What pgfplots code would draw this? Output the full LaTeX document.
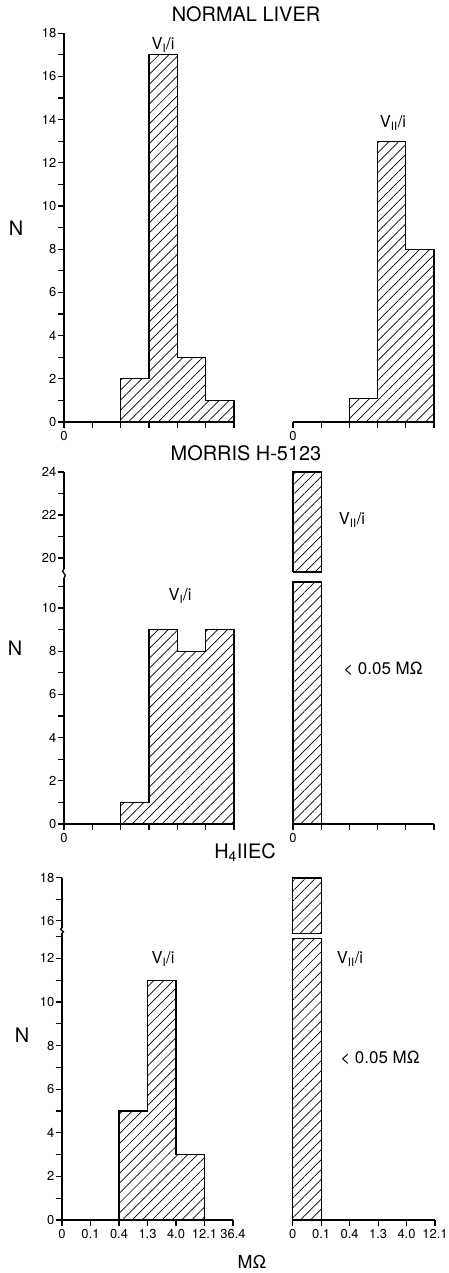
\documentclass[border=0pt]{standalone}
\usepackage{fontspec}
\setmainfont{TeX Gyre Heros}
\usepackage{pgfplots}
\pgfplotsset{compat=1.18}
\usetikzlibrary{patterns.meta}
\tikzset{hatch/.style={draw=black, line width=1.2bp, pattern={Lines[angle=45,distance=7bp,line width=0.7bp]}}}
\pgfplotsset{
  base/.style={
    anchor=south west, enlargelimits=false, clip=false,
    xmin=0, ymin=0,
    tick align=outside, major tick length=6bp, minor tick length=6bp,
    every tick/.style={black, line width=1.1bp},
    axis line style={line width=1.3bp},
    tick label style={font=\fontsize{13}{13}\selectfont},
    yticklabel style={inner xsep=1.5bp},
    xticklabel style={inner ysep=3bp},
    /pgf/number format/assume math mode=true,
  },
  leftax/.style={base, axis x line*=bottom, axis y line*=left},
  rightax/.style={base, axis x line*=bottom, axis y line=none, ytick=\empty},
  topleft/.style={base, axis x line=none, axis y line*=left, xtick=\empty},
  topright/.style={base, hide axis},
}
\newcommand{\ttl}{\fontsize{20}{20}\selectfont}
\newcommand{\lbl}{\fontsize{16.5}{16.5}\selectfont}
\begin{document}
\begin{tikzpicture}
\useasboundingbox (0,0) rectangle (449bp,1273bp);
% ---------------- Panel 1: NORMAL LIVER ----------------
\begin{axis}[leftax, at={(64bp,851bp)}, x=28.33bp, y=21.6bp, xmax=6, ymax=18,
  ytick={0,2,...,18}, minor ytick={1,3,...,17},
  xtick={0,...,6}, xticklabels={0,{},{},{},{},{},{}}]
\addplot[hatch, const plot] coordinates {(2,0) (2,2) (3,17) (4,3) (5,1) (6,1) (6,0)} \closedcycle;
\end{axis}
\begin{axis}[rightax, at={(293bp,851bp)}, x=28.2bp, y=21.6bp, xmax=5, ymax=18,
  xtick={0,...,5}, xticklabels={0,{},{},{},{},{}}]
\addplot[hatch, const plot] coordinates {(2,0) (2,1.1) (3,13) (4,8) (5,8) (5,0)} \closedcycle;
\end{axis}
% ---------------- Panel 2: MORRIS H-5123 ----------------
\begin{axis}[leftax, at={(64bp,449bp)}, x=28.33bp, y=21.6bp, xmax=6, ymax=11.4,
  ytick={0,2,...,10}, minor ytick={1,3,...,11},
  xtick={0,...,6}, xticklabels={0,{},{},{},{},{},{}}]
\addplot[hatch, const plot] coordinates {(2,0) (2,1) (3,9) (4,8) (5,9) (6,9) (6,0)} \closedcycle;
\end{axis}
\begin{axis}[topleft, at={(64bp,704bp)}, x=28.33bp, y=21.5bp, xmax=6, ymin=19.49, ymax=24,
  ytick={20,22,24}, minor ytick={21,23}]
\end{axis}
\begin{axis}[rightax, at={(293bp,449bp)}, x=28.2bp, y=21.6bp, xmax=5, ymax=11.4,
  xtick={0,...,5}, xticklabels={0,{},{},{},{},{}}]
\addplot[hatch] coordinates {(0,0) (0,11.2) (1,11.2) (1,0)} \closedcycle;
\end{axis}
\begin{axis}[topright, at={(293bp,704bp)}, x=28.2bp, y=21.5bp, xmax=5, ymin=19.49, ymax=24]
\addplot[hatch] coordinates {(0,19.35) (0,24) (1,24) (1,19.35) (0,19.35)};
\end{axis}
% ---------------- Panel 3: H4IIEC ----------------
\begin{axis}[leftax, at={(62bp,53bp)}, x=28.5bp, y=21.8bp, xmax=6, ymax=13.17,
  ytick={0,2,...,12}, minor ytick={1,3,...,13},
  xtick={0,...,6}, xticklabels={0,0.1,0.4,1.3,4.0,12.1,36.4}]
\addplot[hatch, const plot] coordinates {(2,0) (2,5) (3,11) (4,3) (5,3) (5,0)} \closedcycle;
\end{axis}
\begin{axis}[topleft, at={(62bp,345bp)}, x=28.5bp, y=21.5bp, xmax=6, ymin=15.67, ymax=18,
  ytick={16,18}, minor ytick={17}]
\end{axis}
\begin{axis}[rightax, at={(292.7bp,53bp)}, x=28.46bp, y=21.8bp, xmax=5, ymax=13.17,
  xtick={0,...,5}, xticklabels={0,0.1,0.4,1.3,4.0,12.1}]
\addplot[hatch] coordinates {(0,0) (0,12.9) (1,12.9) (1,0)} \closedcycle;
\end{axis}
\begin{axis}[topright, at={(292.7bp,345bp)}, x=28.46bp, y=21.5bp, xmax=5, ymin=15.67, ymax=18]
\addplot[hatch] coordinates {(0,15.4) (0,18) (1,18) (1,15.4) (0,15.4)};
\end{axis}
% axis breaks
\draw[line width=1.3bp] (64bp,695.2bp) .. controls (69bp,698bp) and (59bp,701bp) .. (64bp,704bp);
\draw[line width=1.3bp] (62bp,340bp) .. controls (67bp,341.5bp) and (57bp,343.5bp) .. (62bp,345bp);
% titles and labels
\node[font=\ttl] at (246bp,1259bp) {NORMAL LIVER};
\node[font=\ttl] at (246bp,820bp) {MORRIS H-5123};
\node[font=\ttl] at (245bp,420bp) {H\textsubscript{4}IIEC};
\node[font=\fontsize{20}{20}\selectfont] at (16bp,1045bp) {N};
\node[font=\fontsize{20}{20}\selectfont] at (15bp,625bp) {N};
\node[font=\fontsize{20}{20}\selectfont] at (22bp,238bp) {N};
\node[font=\lbl] at (163bp,1228bp) {V\textsubscript{I}/i};
\node[font=\lbl] at (393bp,1150bp) {V\textsubscript{II}/i};
\node[font=\lbl] at (180bp,677bp) {V\textsubscript{I}/i};
\node[font=\lbl] at (352bp,753bp) {V\textsubscript{II}/i};
\node[font=\fontsize{17}{17}\selectfont] at (383bp,604bp) {< 0.05 MΩ};
\node[font=\lbl] at (163bp,314bp) {V\textsubscript{I}/i};
\node[font=\lbl] at (350bp,314bp) {V\textsubscript{II}/i};
\node[font=\fontsize{17}{17}\selectfont] at (380bp,215bp) {< 0.05 MΩ};
\node[font=\fontsize{18}{18}\selectfont] at (252bp,11bp) {MΩ};
\end{tikzpicture}
\end{document}
